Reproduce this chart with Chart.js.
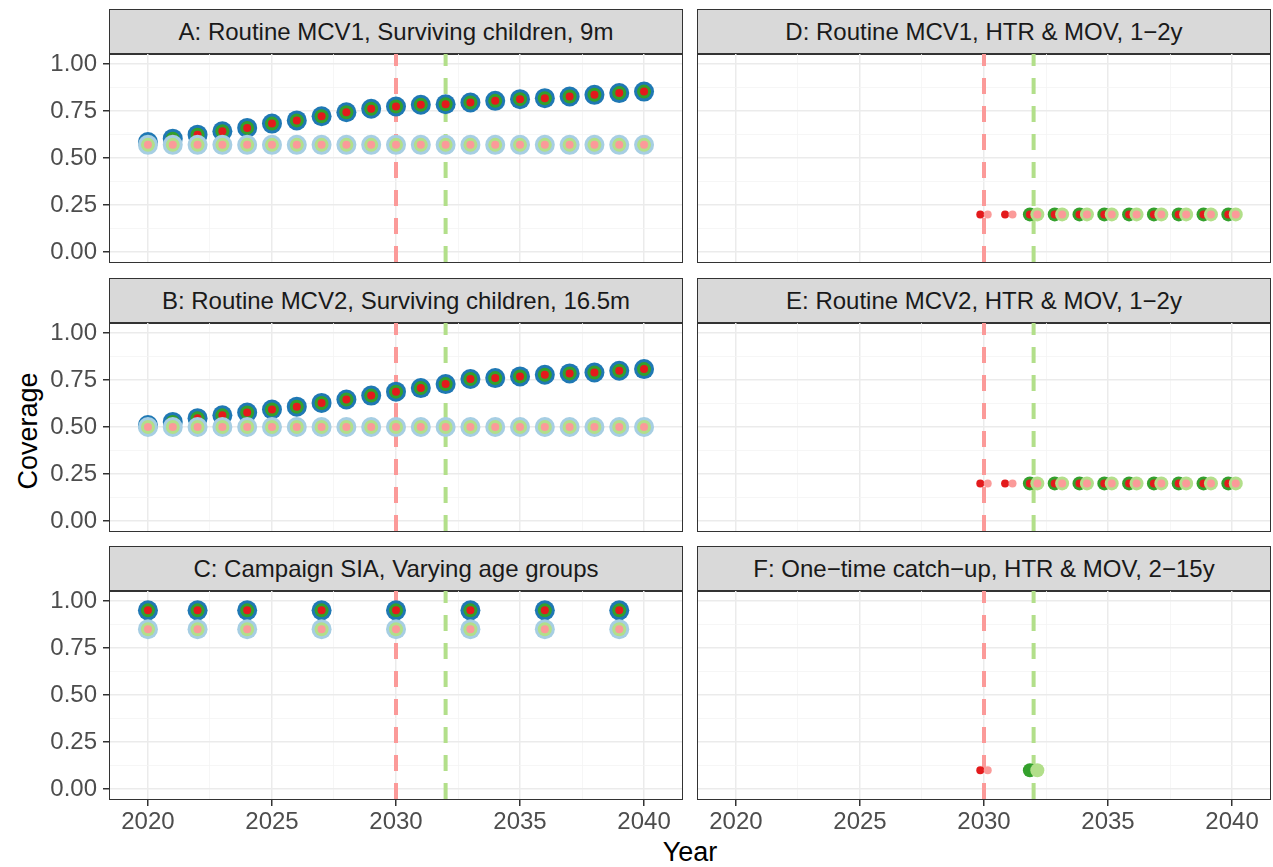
<!DOCTYPE html>
<html>
<head>
<meta charset="utf-8">
<script src="https://cdn.jsdelivr.net/npm/chart.js@4/dist/chart.umd.min.js"></script>
<style>
  body { margin: 0; background: #fff; width: 1273px; height: 867px; position: relative; overflow: hidden;
         font-family: "Liberation Sans", Arial, sans-serif; }
  .strip { position: absolute; background: #D9D9D9; border: 1.5px solid #333; box-sizing: border-box;
           color: #1A1A1A; font-size: 24px; display: flex; align-items: center; justify-content: center; }
  .frame { position: absolute; border: 1.5px solid #333; box-sizing: border-box; pointer-events: none; }
  .panel { position: absolute; }
  .axtitle { position: absolute; color: #000; font-size: 27px; white-space: nowrap; }
</style>
</head>
<body>
<div class="axtitle" id="ylab" style="left:28px;top:431px;transform:translate(-50%,-50%) rotate(-90deg);">Coverage</div>
<div class="axtitle" style="left:690px;top:852px;transform:translate(-50%,-50%);">Year</div>
<script>
// ---- data ----
const years = [2020, 2021, 2022, 2023, 2024, 2025, 2026, 2027, 2028, 2029, 2030,
               2031, 2032, 2033, 2034, 2035, 2036, 2037, 2038, 2039, 2040];
const yearsFrom2030 = [2030, 2031, 2032, 2033, 2034, 2035, 2036, 2037, 2038, 2039, 2040];
const yearsFrom2032 = [2032, 2033, 2034, 2035, 2036, 2037, 2038, 2039, 2040];
const siaYears = [2020, 2022, 2024, 2027, 2030, 2033, 2036, 2039];

const mcv1Dark = [0.585, 0.603, 0.624, 0.642, 0.660, 0.683, 0.700, 0.722, 0.743, 0.762, 0.774,
                  0.783, 0.786, 0.795, 0.804, 0.813, 0.818, 0.827, 0.836, 0.845, 0.853];
const mcv1Light = [0.57, 0.57, 0.57, 0.57, 0.57, 0.57, 0.57, 0.57, 0.57, 0.57, 0.57,
                   0.57, 0.57, 0.57, 0.57, 0.57, 0.57, 0.57, 0.57, 0.57, 0.57];
const mcv2Dark = [0.510, 0.527, 0.547, 0.562, 0.577, 0.593, 0.608, 0.628, 0.646, 0.667, 0.688,
                  0.707, 0.728, 0.755, 0.760, 0.769, 0.778, 0.785, 0.790, 0.799, 0.808];
const mcv2Light = [0.50, 0.50, 0.50, 0.50, 0.50, 0.50, 0.50, 0.50, 0.50, 0.50, 0.50,
                   0.50, 0.50, 0.50, 0.50, 0.50, 0.50, 0.50, 0.50, 0.50, 0.50];
const siaDark = [0.95, 0.95, 0.95, 0.95, 0.95, 0.95, 0.95, 0.95];
const siaLight = [0.85, 0.85, 0.85, 0.85, 0.85, 0.85, 0.85, 0.85];

const htrFrom2030 = [0.2, 0.2, 0.2, 0.2, 0.2, 0.2, 0.2, 0.2, 0.2, 0.2, 0.2];
const htrFrom2032 = [0.2, 0.2, 0.2, 0.2, 0.2, 0.2, 0.2, 0.2, 0.2];
const catchupYearRed = [2030];
const catchupYearGreen = [2032];
const catchupValue = [0.1];

const introYears = [2030, 2032];
const xTicks = [2020, 2025, 2030, 2035, 2040];
const yTicks = [0, 0.25, 0.5, 0.75, 1];

// ---- styling ----
const COL = { blue: '#1F78B4', green: '#33A02C', red: '#E31A1C',
              lblue: '#A6CEE3', lgreen: '#B2DF8A', pink: '#FB9A99' };
const RAD = { blue: 10, green: 7, red: 4, lblue: 10, lgreen: 7, pink: 4 };
const VLINE = ['#FB9A99', '#B2DF8A'];
const D = 0.15; // dodge

const panels = [
  { title: 'A: Routine MCV1, Surviving children, 9m', col: 0, row: 0, layers: [
    ['blue', years, mcv1Dark, 0], ['green', years, mcv1Dark, 0], ['red', years, mcv1Dark, 0],
    ['lblue', years, mcv1Light, 0], ['lgreen', years, mcv1Light, 0], ['pink', years, mcv1Light, 0]] },
  { title: 'B: Routine MCV2, Surviving children, 16.5m', col: 0, row: 1, layers: [
    ['blue', years, mcv2Dark, 0], ['green', years, mcv2Dark, 0], ['red', years, mcv2Dark, 0],
    ['lblue', years, mcv2Light, 0], ['lgreen', years, mcv2Light, 0], ['pink', years, mcv2Light, 0]] },
  { title: 'C: Campaign SIA, Varying age groups', col: 0, row: 2, layers: [
    ['blue', siaYears, siaDark, 0], ['green', siaYears, siaDark, 0], ['red', siaYears, siaDark, 0],
    ['lblue', siaYears, siaLight, 0], ['lgreen', siaYears, siaLight, 0], ['pink', siaYears, siaLight, 0]] },
  { title: 'D: Routine MCV1, HTR & MOV, 1\u22122y', col: 1, row: 0, layers: [
    ['green', yearsFrom2032, htrFrom2032, -D], ['red', yearsFrom2030, htrFrom2030, -D],
    ['lgreen', yearsFrom2032, htrFrom2032, D], ['pink', yearsFrom2030, htrFrom2030, D]] },
  { title: 'E: Routine MCV2, HTR & MOV, 1\u22122y', col: 1, row: 1, layers: [
    ['green', yearsFrom2032, htrFrom2032, -D], ['red', yearsFrom2030, htrFrom2030, -D],
    ['lgreen', yearsFrom2032, htrFrom2032, D], ['pink', yearsFrom2030, htrFrom2030, D]] },
  { title: 'F: One\u2212time catch\u2212up, HTR & MOV, 2\u221215y', col: 1, row: 2, layers: [
    ['red', catchupYearRed, catchupValue, -D], ['pink', catchupYearRed, catchupValue, D],
    ['green', catchupYearGreen, catchupValue, -D], ['lgreen', catchupYearGreen, catchupValue, D]] }
];

const colX = [110, 698], plotW = 572;
const rowY = [54, 323, 591], plotH = 208, stripH = 45;
const X_MIN = 2018.47, X_MAX = 2041.53, Y_MIN = -0.053, Y_MAX = 1.053;

Chart.defaults.font.family = '"Liberation Sans", Arial, sans-serif';
Chart.defaults.font.size = 24;
Chart.defaults.color = '#4D4D4D';

function withMinors(major) {
  const out = [];
  major.forEach((v, i) => { out.push(v); if (i < major.length - 1) out.push((v + major[i + 1]) / 2); });
  return out;
}
const isMajorX = v => xTicks.includes(v);
const isMajorY = v => yTicks.some(t => Math.abs(t - v) < 1e-9);

function gridOpts(isMajor, showTicks) {
  return {
    color: c => isMajor(c.tick.value) ? '#EBEBEB' : '#F4F4F4',
    lineWidth: c => isMajor(c.tick.value) ? 1.5 : 0.8,
    drawTicks: showTicks,
    tickLength: 7,
    tickColor: c => isMajor(c.tick.value) ? '#333333' : 'rgba(0,0,0,0)',
    tickWidth: 1.5
  };
}

panels.forEach(p => {
  const left = colX[p.col], top = rowY[p.row];
  const leftLabels = p.col === 0, bottomLabels = p.row === 2;
  const yW = leftLabels ? left : 0;
  const xH = bottomLabels ? 45 : 0;

  const strip = document.createElement('div');
  strip.className = 'strip';
  Object.assign(strip.style, { left: (left - 1) + 'px', top: (top - stripH) + 'px', width: (plotW + 2) + 'px', height: (stripH + 1) + 'px' });
  strip.textContent = p.title;
  document.body.appendChild(strip);

  const wrap = document.createElement('div');
  wrap.className = 'panel';
  Object.assign(wrap.style, { left: (left - yW) + 'px', top: top + 'px' });
  const cv = document.createElement('canvas');
  cv.width = plotW + yW; cv.height = plotH + xH;
  wrap.appendChild(cv);
  document.body.appendChild(wrap);

  const frame = document.createElement('div');
  frame.className = 'frame';
  Object.assign(frame.style, { left: (left - 1) + 'px', top: (top - 1) + 'px', width: (plotW + 2) + 'px', height: (plotH + 2) + 'px' });
  document.body.appendChild(frame);

  const datasets = [];
  introYears.forEach((yr, i) => datasets.push({
    data: [{ x: yr, y: Y_MIN }, { x: yr, y: Y_MAX }], showLine: true, pointRadius: 0,
    borderColor: VLINE[i], borderWidth: 4, borderDash: [16, 12], order: 20
  }));
  p.layers.forEach((l, i) => {
    const [key, xs, ys, dx] = l;
    datasets.push({
      data: xs.map((x, j) => ({ x: x + dx, y: ys[j] })),
      pointRadius: RAD[key], pointHoverRadius: RAD[key], pointBorderWidth: 0,
      backgroundColor: COL[key], borderWidth: 0, order: 10 - i
    });
  });

  new Chart(cv, {
    type: 'scatter',
    data: { datasets },
    options: {
      responsive: false, animation: false, events: [],
      layout: { padding: 0, autoPadding: false },
      plugins: { legend: { display: false }, tooltip: { enabled: false } },
      scales: {
        x: {
          type: 'linear', min: X_MIN, max: X_MAX,
          afterBuildTicks: s => { s.ticks = withMinors(xTicks).map(v => ({ value: v })); },
          afterFit: s => { s.height = xH; s.paddingLeft = 0; s.paddingRight = 0; },
          border: { display: false },
          grid: gridOpts(isMajorX, bottomLabels),
          ticks: { display: bottomLabels, autoSkip: false, maxRotation: 0, padding: 2,
                   callback: v => isMajorX(v) ? String(v) : '' }
        },
        y: {
          type: 'linear', min: Y_MIN, max: Y_MAX,
          afterBuildTicks: s => { s.ticks = withMinors(yTicks).map(v => ({ value: v })); },
          afterFit: s => { s.width = yW; s.paddingTop = 0; s.paddingBottom = 0; },
          border: { display: false },
          grid: gridOpts(isMajorY, leftLabels),
          ticks: { display: leftLabels, autoSkip: false, padding: 6,
                   callback: v => isMajorY(v) ? v.toFixed(2) : '' }
        }
      }
    }
  });
});
</script>
</body>
</html>
